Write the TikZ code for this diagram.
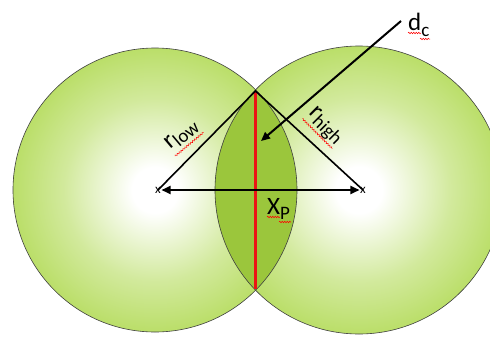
\documentclass[tikz,border=0pt]{standalone}
\usepackage{fontspec}
\setmainfont{Carlito}
\usetikzlibrary{arrows.meta,decorations.pathmorphing}
\definecolor{gr}{RGB}{165,212,58}
\definecolor{lens}{RGB}{155,198,60}
\definecolor{rl}{RGB}{235,20,20}
\pgfdeclareradialshading{ballg}{\pgfpoint{0bp}{0bp}}{color(0bp)=(white); color(4bp)=(white); color(16bp)=(gr!50!white); color(28bp)=(gr!85!white); color(39bp)=(gr); color(50bp)=(gr)}
\tikzset{
  ring/.style={draw=black!75, line width=0.6pt},
  leg/.style={draw=black, line width=1.6pt},
  lbl/.style={inner sep=0pt, font=\fontsize{25}{27}\selectfont},
  xmk/.style={inner sep=0.5pt, font=\fontsize{13}{14}\selectfont},
  arr/.style={draw=black, line width=2pt, -{Triangle[length=9pt,width=8pt]}},
  wave/.style={draw=red, line width=0.5pt, decorate, decoration={snake, amplitude=0.8pt, segment length=2.5pt}},
}
\newcommand\subsz{\fontsize{19}{21}\selectfont}
\begin{document}
\begin{tikzpicture}[x=1pt,y=-1pt]
\useasboundingbox (0,0) rectangle (490,338);
\clip (0,0) rectangle (490,338);
\coordinate (cL) at (155,190);
\coordinate (cR) at (359,190);
\path[shading=ballg] (cL) circle[radius=142];
\path[shading=ballg] (cR) circle[radius=144];
\begin{scope}
  \clip (cL) circle[radius=142];
  \fill[lens] (cR) circle[radius=144];
\end{scope}
\path[ring] (cL) circle[radius=142];
\path[ring] (cR) circle[radius=144];
% points
\coordinate (top) at (255.5,91);
\coordinate (bot) at (255.5,289);
\node[xmk] (xL) at (158,190) {x};
\node[xmk] (xR) at (363,190) {x};
% red chord
\draw[rl, line width=2.4pt] (top) -- (bot);
% radii
\draw[leg] (xL.center) -- (top) -- (xR.center);
% distance arrow
\draw[draw=black, line width=2pt, {Triangle[length=9pt,width=8pt]}-{Triangle[length=9pt,width=8pt]}] (xL) -- (xR);
% dc arrow
\coordinate (dstart) at (401,21);
\coordinate (dtip) at (261,141);
\draw[arr] (dstart) -- (dtip);
% labels
\begin{scope}[shift={(170,150)}, rotate=40]
  \node[lbl, anchor=base west, transform shape] (rlow) at (0,0) {r\raisebox{-4pt}{\subsz low}};
  \draw[wave] (0,8) -- (rlow.east |- 0,8);
\end{scope}
\begin{scope}[shift={(308,113)}, rotate=-45]
  \node[lbl, anchor=base west, transform shape] (rhigh) at (0,0) {r\raisebox{-4pt}{\subsz high}};
  \draw[wave] (0,8) -- (rhigh.east |- 0,8);
\end{scope}
\node[lbl, anchor=base west] (xp) at (267,214) {X\raisebox{-5pt}{\subsz P}};
\draw[wave] (xp.base west) ++(0,3) -- ++(13,0);
\draw[wave] (xp.base west) ++(12,8) -- ++(12,0);
\node[lbl, anchor=base west] (dc) at (408,30) {d\raisebox{-6pt}{\subsz c}};
\draw[wave] (dc.base west) ++(0,3) -- ++(13,0);
\draw[wave] (dc.base west) ++(12,9) -- ++(10,0);
\end{tikzpicture}
\end{document}
